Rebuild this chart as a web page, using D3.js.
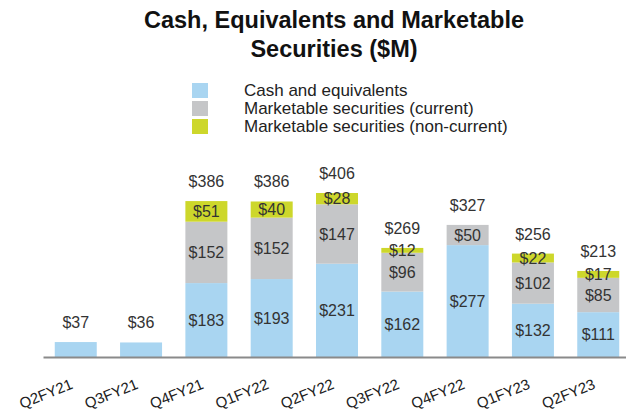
<!DOCTYPE html>
<html>
<head>
<meta charset="utf-8">
<script src="https://cdn.jsdelivr.net/npm/d3@7"></script>
<style>
  body { margin: 0; background: #fff; }
  text { font-family: "Liberation Sans", Arial, sans-serif; }
</style>
</head>
<body>
<div id="chart"></div>
<script>
// quarters and values ($M)
var quarters = ['Q2FY21', 'Q3FY21', 'Q4FY21', 'Q1FY22', 'Q2FY22', 'Q3FY22', 'Q4FY22', 'Q1FY23', 'Q2FY23'];
var cashValues = [37, 36, 183, 193, 231, 162, 277, 132, 111];
var currentValues = [0, 0, 152, 152, 147, 96, 50, 102, 85];
var nonCurrentValues = [0, 0, 51, 40, 28, 12, 0, 22, 17];
var totals = [37, 36, 386, 386, 406, 269, 327, 256, 213];
var seriesNames = ['Cash and equivalents', 'Marketable securities (current)', 'Marketable securities (non-current)'];
var seriesColors = ['#a9d5f1', '#c5c6c8', '#cdd72b'];

var width = 626, height = 414;

var svg = d3.select('#chart')
    .append('svg')
    .attr('width', width)
    .attr('height', height);

// title
var title = svg.append('text')
    .attr('x', 334)
    .attr('y', 28)
    .attr('text-anchor', 'middle')
    .style('font-size', '23.5px')
    .style('font-weight', 'bold')
    .style('fill', '#111');
title.append('tspan').attr('x', 334).text('Cash, Equivalents and Marketable');
title.append('tspan').attr('x', 334).attr('dy', 29).text('Securities ($M)');

// legend
var legend = svg.selectAll('.legend')
    .data(seriesNames)
    .enter()
    .append('g')
    .attr('class', 'legend')
    .attr('transform', function(d, i) { return `translate(192, ${83 + i * 18})` });

legend.append('rect')
    .attr('width', 16)
    .attr('height', 15)
    .style('fill', function(d, i) { return seriesColors[i] });

legend.append('text')
    .attr('x', 52)
    .attr('y', 13)
    .style('font-size', '17px')
    .style('fill', '#222')
    .text(function(d) { return d });

// scales
var x = d3.scaleBand()
    .domain(quarters)
    .range([43, 631])
    .paddingInner(0.357)
    .paddingOuter(0.18);

var y = d3.scaleLinear()
    .domain([0, 406])
    .range([357, 193]);

// stacked data
var rows = quarters.map(function(q, i) {
    return { quarter: q, cash: cashValues[i], current: currentValues[i], noncurrent: nonCurrentValues[i], total: totals[i] };
});
var keys = ['cash', 'current', 'noncurrent'];
var stacked = d3.stack().keys(keys)(rows);

var layers = svg.selectAll('.layer')
    .data(stacked)
    .enter()
    .append('g')
    .attr('class', 'layer')
    .style('fill', function(d, i) { return seriesColors[i] });

layers.selectAll('rect')
    .data(function(d) { return d.filter(function(s) { return s[1] - s[0] > 0 }) })
    .enter()
    .append('rect')
    .attr('x', function(d) { return x(d.data.quarter) })
    .attr('y', function(d) { return y(d[1]) })
    .attr('width', x.bandwidth())
    .attr('height', function(d) { return y(d[0]) - y(d[1]) });

// segment labels (only for stacked bars)
stacked.forEach(function(layer) {
    svg.selectAll(null)
        .data(layer.filter(function(s) { return s[1] - s[0] > 0 && s.data.current > 0 }))
        .enter()
        .append('text')
        .attr('x', function(d) { return x(d.data.quarter) + x.bandwidth() / 2 })
        .attr('y', function(d) { return (y(d[0]) + y(d[1])) / 2 })
        .attr('dy', '0.36em')
        .attr('text-anchor', 'middle')
        .style('font-size', '16px')
        .style('fill', '#333')
        .text(function(d) { return '$' + (d[1] - d[0]) });
});

// totals above bars
svg.selectAll('.total')
    .data(rows)
    .enter()
    .append('text')
    .attr('class', 'total')
    .attr('x', function(d) { return x(d.quarter) + x.bandwidth() / 2 })
    .attr('y', function(d) { return y(d.total) - 14 })
    .attr('text-anchor', 'middle')
    .style('font-size', '16px')
    .style('fill', '#333')
    .text(function(d) { return '$' + d.total });

// x axis line
var xAxis = svg.append('g')
    .attr('transform', 'translate(0, 357)')
    .call(d3.axisBottom(x).tickSize(0).tickSizeOuter(0).tickFormat(''));

xAxis.select('.domain')
    .style('stroke', '#8a8a8a')
    .style('stroke-width', 2);

// slanted quarter labels
svg.selectAll('.qlabel')
    .data(quarters)
    .enter()
    .append('text')
    .attr('class', 'qlabel')
    .attr('transform', function(d) { return `translate(${x(d) + x.bandwidth() / 2 - 2}, 388) rotate(-22)` })
    .attr('text-anchor', 'end')
    .style('font-size', '15px')
    .style('fill', '#222')
    .text(function(d) { return d });
</script>
</body>
</html>
